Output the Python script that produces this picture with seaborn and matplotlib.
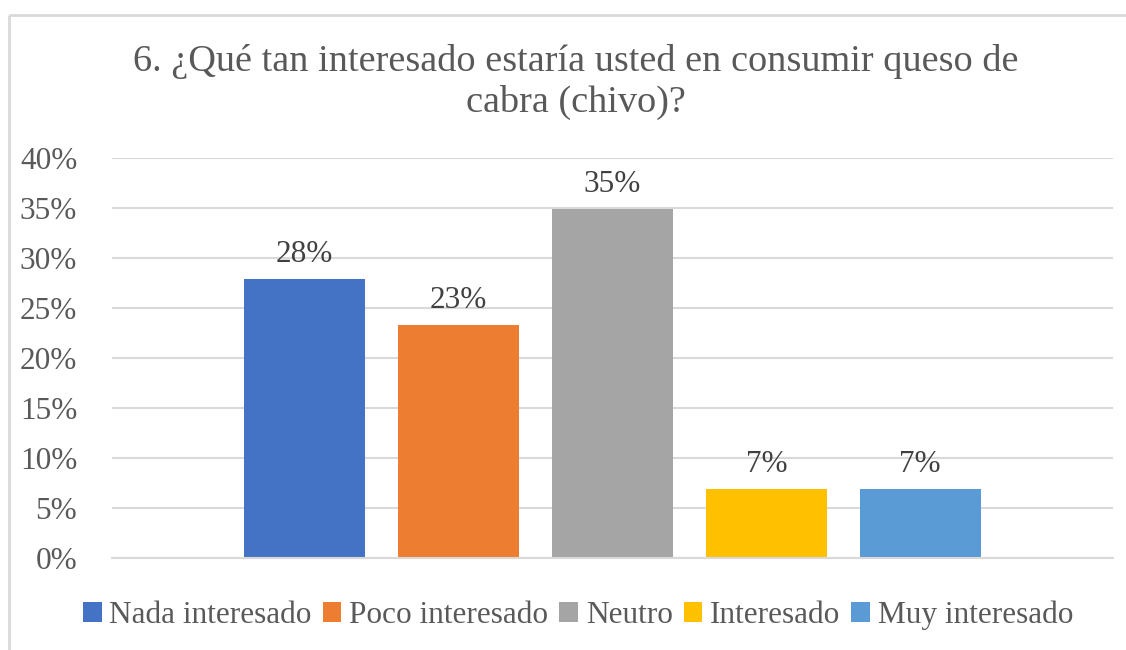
import matplotlib.pyplot as plt
import numpy as np
import pandas as pd
import seaborn as sns
from matplotlib.lines import Line2D

# ------------------------------

CATEGORIES = ["Nada interesado", "Poco interesado", "Neutro", "Interesado", "Muy interesado"]
VALUES = [27.9, 23.3, 34.9, 6.9, 6.9]
LABELS = ["28%", "23%", "35%", "7%", "7%"]
COLORS = ["#4472c4", "#ed7d31", "#a5a5a5", "#ffc000", "#5b9bd5"]
Y_TICKS = [0, 5, 10, 15, 20, 25, 30, 35, 40]
TITLE = "6. ¿Qué tan interesado estaría usted en consumir queso de\ncabra (chivo)?"

GREY = "#595959"
GRID = "#d9d9d9"

sns.set_style("white")
plt.rcParams["font.family"] = ["Liberation Serif", "DejaVu Serif"]

DPI = 100
W, H = 1126, 650
FIGSIZE = (W / DPI, H / DPI)

# ------------------------------

df = pd.DataFrame({"respuesta": CATEGORIES, "valor": VALUES})

fig = plt.figure(figsize=FIGSIZE, dpi=DPI)
ax = fig.add_axes([112 / W, (H - 558) / H, (1113 - 112) / W, 400 / H])

sns.barplot(
    data=df,
    x="respuesta",
    y="valor",
    hue="respuesta",
    palette=COLORS,
    width=0.786,
    saturation=1,
    linewidth=0,
    legend=True,
    ax=ax,
)

for cont, lab in zip(ax.containers, LABELS):
    ax.bar_label(cont, labels=[lab], padding=7, fontsize=22.5, color="#404040")

ax.set_xlim(-1.253, 4 + 1.253)
ax.set_ylim(0, 40)
ax.set_yticks(Y_TICKS)
ax.set_yticklabels([f"{t}%" for t in Y_TICKS], fontsize=22.5, color=GREY)
ax.set_xticks([])
ax.set_xlabel("")
ax.set_ylabel("")
ax.tick_params(axis="y", length=0, pad=25)
ax.grid(axis="y", color=GRID, linewidth=1.5)
ax.set_axisbelow(True)
for s in ["top", "right", "left"]:
    ax.spines[s].set_visible(False)
ax.spines["bottom"].set_color(GRID)
ax.spines["bottom"].set_linewidth(1.5)

# legend at bottom
ax.legend(
    loc="center",
    bbox_to_anchor=(578 / W, (H - 615) / H),
    bbox_transform=fig.transFigure,
    ncol=5,
    frameon=False,
    fontsize=22.5,
    labelcolor=GREY,
    handlelength=0.6,
    handleheight=0.6,
    handletextpad=0.25,
    columnspacing=0.35,
)

fig.text(576 / W, (H - 82) / H, TITLE, ha="center", va="center",
         fontsize=27.5, color=GREY, linespacing=1.2)

# chart border (only top and left are inside the picture)
bx, by = 8.5 / W, (H - 14.5) / H
fig.add_artist(Line2D([bx, 1.1], [by, by], transform=fig.transFigure,
                      color=GRID, linewidth=2, solid_capstyle="butt"))
fig.add_artist(Line2D([bx, bx], [-0.1, by], transform=fig.transFigure,
                      color=GRID, linewidth=2, solid_capstyle="butt"))

fig.savefig("out.png", dpi=DPI)
